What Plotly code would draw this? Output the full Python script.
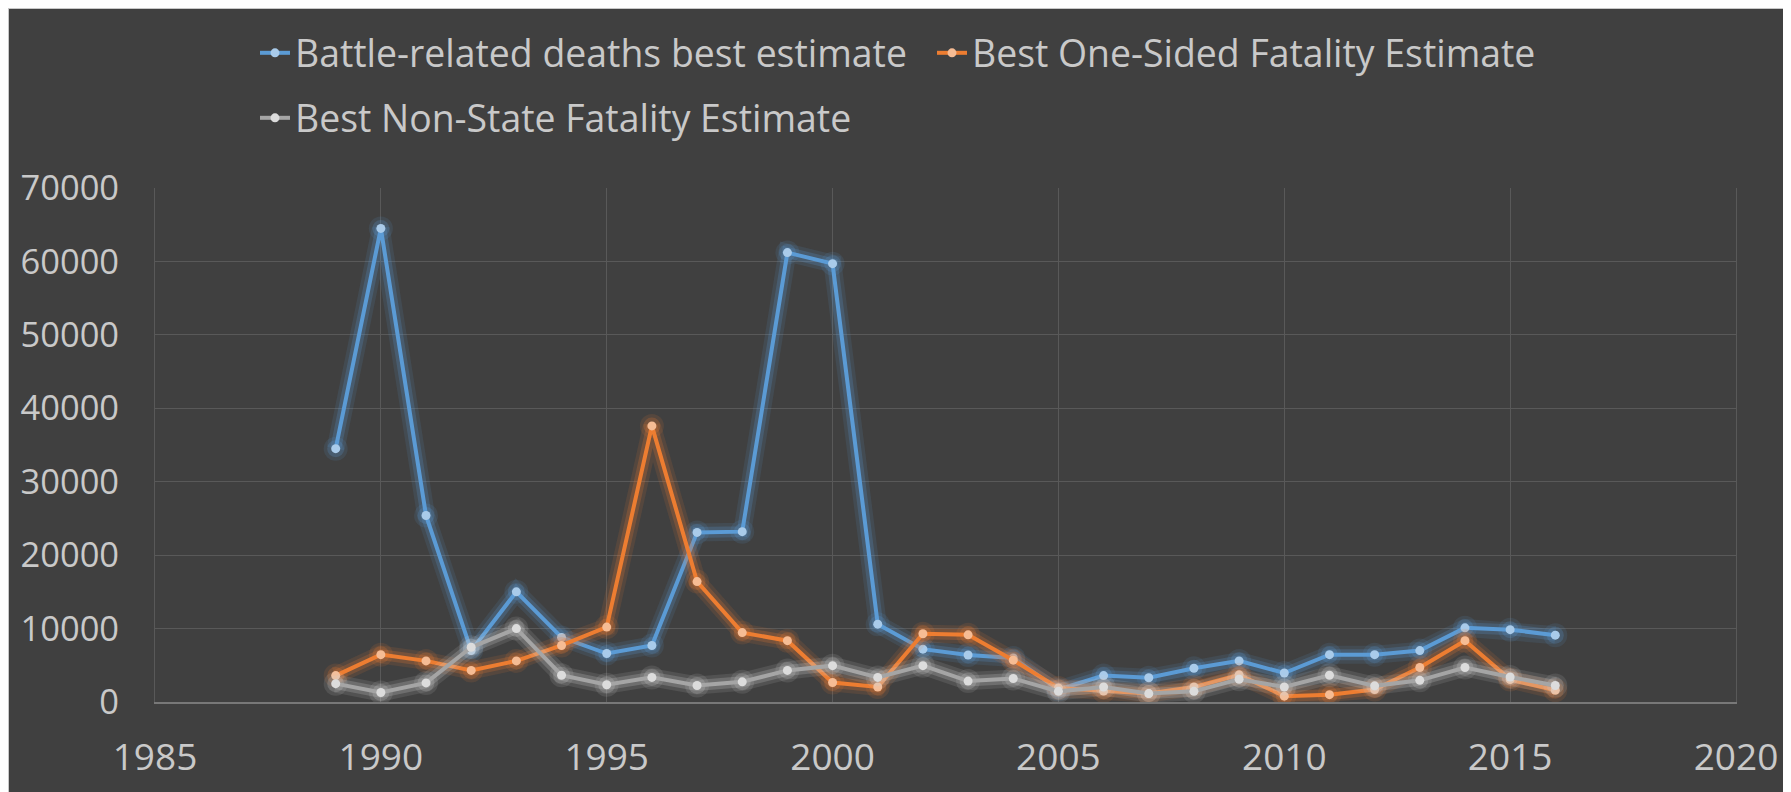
import plotly.graph_objects as go

# ---- data ----
years = list(range(1989, 2017))
battle_deaths = [34500, 64500, 25400, 7000, 15000, 8800, 6600, 7700, 23100, 23200,
                 61200, 59700, 10600, 7200, 6400, 6000, 1700, 3600, 3300, 4600,
                 5600, 3950, 6450, 6450, 7000, 10100, 9850, 9100]
one_sided = [3600, 6450, 5600, 4300, 5600, 7700, 10200, 37600, 16400, 9450,
             8350, 2650, 2050, 9300, 9150, 5700, 1900, 1500, 1150, 2050,
             3700, 800, 1000, 1700, 4700, 8350, 3050, 1600]
non_state = [2500, 1300, 2600, 7450, 10000, 3650, 2350, 3350, 2250, 2750,
             4300, 4950, 3350, 4950, 2850, 3200, 1450, 2050, 1150, 1450,
             3100, 2050, 3650, 2200, 2950, 4700, 3400, 2250]
series_names = ["Battle-related deaths best estimate",
                "Best One-Sided Fatality Estimate",
                "Best Non-State Fatality Estimate"]
x_ticks = [1985, 1990, 1995, 2000, 2005, 2010, 2015, 2020]
y_ticks = [0, 10000, 20000, 30000, 40000, 50000, 60000, 70000]

# ---- layout geometry (page pixels; the page body adds an 8px offset) ----
OFF = 8
W, H = 1791 - OFF, 792 - OFF
L, R, T, B = 155 - OFF, 55, 188 - OFF, 90
PW, PH = W - L - R, H - T - B


def px2x(page_px):
    return (page_px - OFF - L) / PW


def py2y(page_py):
    return (H - B - (page_py - OFF)) / PH


FONT = "Open Sans"
TXT = "#c9c9c9"
GRID = "#595959"
styles = [
    dict(line="#5B9BD5", marker="#A9CBEA", glow="rgba(91,155,213,%s)"),
    dict(line="#ED7D31", marker="#F6BC94", glow="rgba(237,125,49,%s)"),
    dict(line="#A5A5A5", marker="#DCDCDC", glow="rgba(210,210,210,%s)"),
]
data = [battle_deaths, one_sided, non_state]
legends = ["legend", "legend", "legend2"]

fig = go.Figure()
for name, vals, st, lg in zip(series_names, data, styles, legends):
    for w, a in ((18, "0.12"), (11, "0.22")):
        fig.add_trace(go.Scatter(
            x=years, y=vals, mode="lines+markers", showlegend=False, hoverinfo="skip",
            line=dict(color=st["glow"] % a, width=w),
            marker=dict(color=st["glow"] % a, size=w + 6),
        ))
    fig.add_trace(go.Scatter(
        x=years, y=vals, name=name, mode="lines+markers", legend=lg,
        line=dict(color=st["line"], width=4),
        marker=dict(color=st["marker"], size=9),
    ))

shapes = [
    dict(type="line", xref="paper", yref="paper", x0=px2x(OFF), x1=px2x(1791),
         y0=py2y(OFF + 0.5), y1=py2y(OFF + 0.5), line=dict(color="#c8c8c8", width=1),
         layer="above"),
    dict(type="line", xref="paper", yref="paper", x0=px2x(OFF + 0.5), x1=px2x(OFF + 0.5),
         y0=py2y(OFF), y1=py2y(792), line=dict(color="#c8c8c8", width=1), layer="above"),
]

legend_common = dict(orientation="h", xanchor="left", yanchor="middle",
                     bgcolor="rgba(0,0,0,0)", borderwidth=0,
                     font=dict(family=FONT, size=37.4, color=TXT))

fig.update_layout(
    width=W, height=H,
    margin=dict(l=L, r=R, t=T, b=B, autoexpand=False),
    paper_bgcolor="#404040", plot_bgcolor="#404040",
    font=dict(family=FONT, color=TXT),
    shapes=shapes,
    legend=dict(x=px2x(255), y=py2y(53), entrywidth=632, **legend_common),
    legend2=dict(x=px2x(255), y=py2y(118), **legend_common),
    xaxis=dict(range=[1985, 2020], tickvals=x_ticks, ticktext=[str(v) for v in x_ticks],
               showgrid=True, gridcolor=GRID, gridwidth=1,
               showline=True, linecolor="#787878", linewidth=2,
               zeroline=False, ticks="", ticklabelstandoff=22,
               tickfont=dict(family=FONT, size=37, color=TXT)),
    yaxis=dict(range=[0, 70000], tickvals=y_ticks, ticktext=[str(v) for v in y_ticks],
               showgrid=True, gridcolor=GRID, gridwidth=1,
               zeroline=False, showline=True, mirror=True, linecolor=GRID, linewidth=1,
               ticks="", ticklabelstandoff=28,
               tickfont=dict(family=FONT, size=34.5, color=TXT)),
)

fig.write_html("out.html")
